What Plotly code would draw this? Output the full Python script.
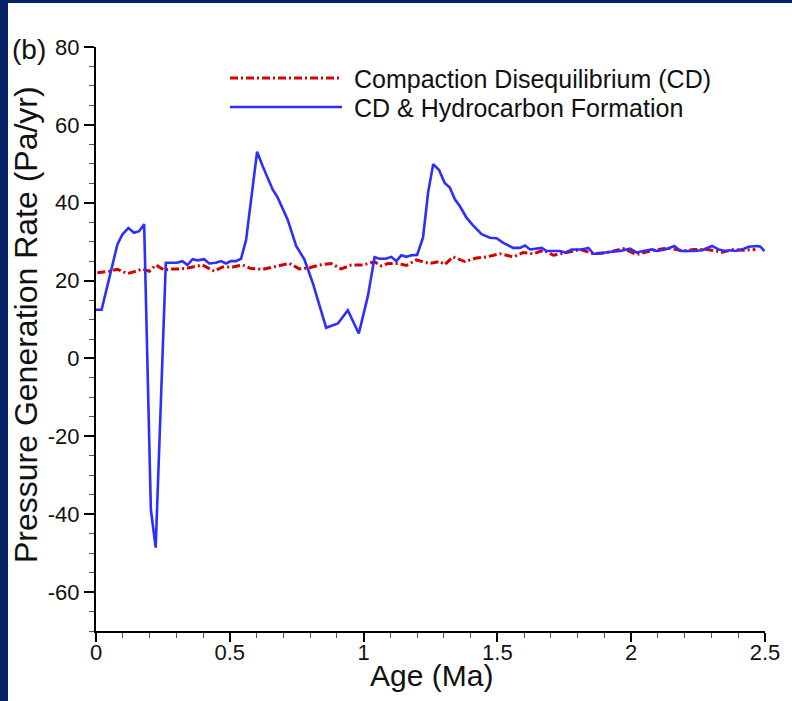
import plotly.graph_objects as go

# ---- data ----
cd_age = [0.005, 0.049, 0.080, 0.117, 0.149, 0.173, 0.199, 0.224, 0.255, 0.286,
          0.317, 0.348, 0.398, 0.442, 0.473, 0.510, 0.548, 0.579, 0.623, 0.667,
          0.723, 0.760, 0.798, 0.835, 0.879, 0.916, 0.954, 0.997, 1.041, 1.066,
          1.091, 1.128, 1.160, 1.197, 1.247, 1.285, 1.303, 1.334, 1.378, 1.422,
          1.460, 1.509, 1.559, 1.596, 1.634, 1.672, 1.709, 1.759, 1.809, 1.859,
          1.909, 1.971, 2.021, 2.071, 2.134, 2.196, 2.233, 2.284, 2.340, 2.383,
          2.421, 2.464]
cd_rate = [22.0, 22.4, 22.9, 21.8, 22.4, 23.0, 22.4, 24.0, 22.7, 23.0,
           23.0, 23.3, 24.0, 22.4, 23.5, 23.5, 24.0, 23.1, 22.9, 23.5,
           24.4, 23.0, 23.3, 24.0, 24.4, 23.0, 24.0, 24.0, 24.8, 23.8,
           24.4, 24.4, 23.9, 25.3, 24.4, 24.9, 24.1, 26.1, 24.9, 25.8,
           26.1, 26.9, 26.1, 27.2, 26.9, 27.8, 26.5, 27.2, 28.0, 26.9,
           27.2, 28.2, 26.7, 27.6, 28.4, 27.6, 28.0, 28.0, 27.3, 28.0,
           27.8, 28.0]

hc_age = [0.000, 0.021, 0.080, 0.099, 0.121, 0.142, 0.161, 0.180, 0.205, 0.223,
          0.261, 0.303, 0.323, 0.342, 0.361, 0.379, 0.404, 0.423, 0.448, 0.467,
          0.486, 0.504, 0.523, 0.542, 0.561, 0.585, 0.602, 0.623, 0.660, 0.679,
          0.716, 0.748, 0.779, 0.810, 0.835, 0.860, 0.904, 0.941, 0.982, 1.016,
          1.041, 1.060, 1.082, 1.104, 1.122, 1.141, 1.160, 1.179, 1.200, 1.222,
          1.241, 1.260, 1.282, 1.303, 1.322, 1.341, 1.360, 1.385, 1.409, 1.441,
          1.472, 1.497, 1.522, 1.559, 1.584, 1.603, 1.622, 1.647, 1.666, 1.684,
          1.734, 1.753, 1.778, 1.815, 1.840, 1.859, 1.884, 1.909, 1.959, 1.996,
          2.021, 2.046, 2.078, 2.096, 2.127, 2.161, 2.184, 2.233, 2.265, 2.302,
          2.327, 2.352, 2.371, 2.390, 2.415, 2.439, 2.471, 2.483, 2.498]
hc_rate = [12.5, 12.5, 29.3, 31.9, 33.5, 32.3, 32.7, 34.5, -38.8, -48.6,
           24.6, 24.6, 25.0, 24.0, 25.5, 25.2, 25.5, 24.4, 24.6, 25.0,
           24.4, 25.0, 25.0, 25.6, 30.5, 44.3, 53.1, 49.4, 43.4, 41.3,
           35.7, 28.9, 25.4, 19.4, 13.4, 7.9, 9.0, 12.4, 6.4, 16.0,
           26.0, 25.6, 25.6, 26.1, 25.0, 26.5, 26.1, 26.5, 26.6, 31.0,
           42.6, 49.9, 48.4, 45.1, 43.9, 40.9, 39.1, 36.1, 34.2, 31.9,
           31.0, 30.9, 29.7, 28.4, 28.4, 29.0, 28.0, 28.2, 28.4, 27.6,
           27.6, 27.2, 28.0, 28.0, 28.4, 26.9, 26.9, 27.3, 27.6, 28.2,
           27.2, 27.6, 28.0, 27.6, 28.0, 28.9, 27.6, 27.6, 27.8, 28.9,
           28.0, 27.6, 27.8, 27.6, 28.0, 28.7, 28.9, 28.7, 27.6]

series_names = ["Compaction Disequilibrium (CD)", "CD & Hydrocarbon Formation"]
x_tickvals = [0, 0.5, 1, 1.5, 2, 2.5]
x_ticktext = ["0", "0.5", "1", "1.5", "2", "2.5"]
y_tickvals = [-60, -40, -20, 0, 20, 40, 60, 80]
y_ticktext = ["-60", "-40", "-20", "0", "20", "40", "60", "80"]

RED = "#d40000"
BLUE = "#2e2eff"
NAVY = "#062266"
FONT = "Arial, Liberation Sans, sans-serif"
RED_DASH = "8px,3px,2px,3px"

W, H = 792, 701
L, R, T, B = 96, 27, 47, 70
PW, PH = W - L - R, H - T - B


def px2x(px):
    return (px - L) / PW


def py2y(py):
    return (H - B - py) / PH


fig = go.Figure()
fig.add_trace(go.Scatter(x=cd_age, y=cd_rate, mode="lines", name=series_names[0],
                         line=dict(color=RED, width=3, dash=RED_DASH), showlegend=False))
fig.add_trace(go.Scatter(x=hc_age, y=hc_rate, mode="lines", name=series_names[1],
                         line=dict(color=BLUE, width=2.6), showlegend=False))

shapes = [
    # navy frame strips (left and top)
    dict(type="rect", xref="paper", yref="paper", x0=px2x(0), x1=px2x(8),
         y0=py2y(H), y1=py2y(0), fillcolor=NAVY, line=dict(width=0), layer="above"),
    dict(type="rect", xref="paper", yref="paper", x0=px2x(0), x1=px2x(W),
         y0=py2y(3), y1=py2y(0), fillcolor=NAVY, line=dict(width=0), layer="above"),
    # legend samples
    dict(type="line", xref="paper", yref="paper", x0=px2x(230), x1=px2x(342),
         y0=py2y(78), y1=py2y(78), line=dict(color=RED, width=3, dash=RED_DASH)),
    dict(type="line", xref="paper", yref="paper", x0=px2x(230), x1=px2x(342),
         y0=py2y(107), y1=py2y(107), line=dict(color=BLUE, width=2.6)),
]

annotations = [
    dict(text=series_names[0], xref="paper", yref="paper", x=px2x(352), y=py2y(79),
         xanchor="left", yanchor="middle", showarrow=False,
         font=dict(family=FONT, size=25, color="#111")),
    dict(text=series_names[1], xref="paper", yref="paper", x=px2x(352), y=py2y(108),
         xanchor="left", yanchor="middle", showarrow=False,
         font=dict(family=FONT, size=25, color="#111")),
    dict(text="(b)", xref="paper", yref="paper", x=px2x(29), y=py2y(50),
         xanchor="center", yanchor="middle", showarrow=False,
         font=dict(family=FONT, size=28, color="#111")),
    dict(text="Age (Ma)", xref="paper", yref="paper", x=px2x(431), y=py2y(675),
         xanchor="center", yanchor="middle", showarrow=False,
         font=dict(family=FONT, size=30, color="#111")),
    dict(text="Pressure Generation Rate (Pa/yr)", xref="paper", yref="paper",
         x=px2x(26), y=py2y(325), xanchor="center", yanchor="middle",
         textangle=-90, showarrow=False,
         font=dict(family=FONT, size=32, color="#111")),
]

fig.update_layout(
    width=W, height=H,
    margin=dict(l=L, r=R, t=T, b=B, pad=0),
    paper_bgcolor="white", plot_bgcolor="white",
    font=dict(family=FONT, size=22, color="#111"),
    shapes=shapes, annotations=annotations,
    showlegend=False,
)
fig.update_xaxes(range=[0, 2.5], tickvals=x_tickvals, ticktext=x_ticktext,
                 showline=True, linecolor="black", linewidth=2, mirror=False,
                 ticks="outside", ticklen=9, tickwidth=2, tickcolor="black",
                 ticklabelstandoff=-8,
                 showgrid=False, zeroline=False,
                 tickfont=dict(family=FONT, size=22, color="#111"),
                 minor=dict(dtick=0.1, tick0=0, ticks="outside", ticklen=5,
                            tickwidth=1, tickcolor="#555", showgrid=False))
fig.update_yaxes(range=[-70, 80], tickvals=y_tickvals, ticktext=y_ticktext,
                 showline=True, linecolor="black", linewidth=2, mirror=False,
                 ticks="outside", ticklen=10, tickwidth=2, tickcolor="black",
                 showgrid=False, zeroline=False,
                 tickfont=dict(family=FONT, size=22, color="#111"),
                 minor=dict(dtick=5, tick0=0, ticks="outside", ticklen=5,
                            tickwidth=1, tickcolor="#555", showgrid=False))

fig.write_html("out.html")
